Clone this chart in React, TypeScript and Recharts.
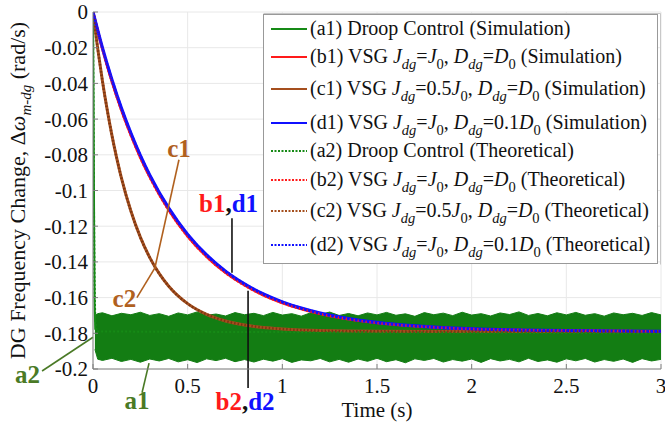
import React from 'react';
import {
  ComposedChart,
  Line,
  Area,
  XAxis,
  YAxis,
  CartesianGrid,
  ReferenceLine,
  ReferenceDot,
} from 'recharts';

// ---------- ticks ----------
const xTicks = [0, 0.5, 1, 1.5, 2, 2.5, 3];
const yTicks = [0, -0.02, -0.04, -0.06, -0.08, -0.1, -0.12, -0.14, -0.16, -0.18, -0.2];

// ---------- (a1) droop control, simulation: initial drop ----------
const droopSimTime = [0, 0.003, 0.006, 0.009, 0.012];
const droopSimValue = [0, -0.05, -0.12, -0.165, -0.178];

// ---------- (a1) droop control, simulation: oscillation band envelope ----------
const bandTime = [
  0.01, 0.025, 0.05, 0.1, 0.15, 0.2, 0.25, 0.3, 0.35, 0.4, 0.45, 0.5, 0.55, 0.6, 0.65, 0.7,
  0.75, 0.8, 0.85, 0.9, 0.95, 1.0, 1.05, 1.1, 1.15, 1.2, 1.25, 1.3, 1.35, 1.4, 1.45, 1.5,
  1.55, 1.6, 1.65, 1.7, 1.75, 1.8, 1.85, 1.9, 1.95, 2.0, 2.05, 2.1, 2.15, 2.2, 2.25, 2.3,
  2.35, 2.4, 2.45, 2.5, 2.55, 2.6, 2.65, 2.7, 2.75, 2.8, 2.85, 2.9, 2.95, 3.0,
];
const bandUpper = [
  -0.17, -0.169, -0.1685, -0.1702, -0.1688, -0.1696, -0.1682, -0.17, -0.169, -0.1705,
  -0.1686, -0.1697, -0.168, -0.1699, -0.1692, -0.1703, -0.1684, -0.1696, -0.1688, -0.1701,
  -0.1683, -0.1698, -0.169, -0.1704, -0.1685, -0.1695, -0.1681, -0.17, -0.1689, -0.1702,
  -0.1686, -0.1697, -0.1683, -0.1699, -0.1691, -0.1705, -0.1684, -0.1696, -0.1687, -0.1701,
  -0.1682, -0.1698, -0.169, -0.1703, -0.1686, -0.1695, -0.168, -0.17, -0.1689, -0.1702,
  -0.1685, -0.1697, -0.1683, -0.1699, -0.169, -0.1704, -0.1686, -0.1696, -0.1688, -0.17,
  -0.1684, -0.1697,
];
const bandLower = [
  -0.189, -0.1945, -0.1952, -0.194, -0.1958, -0.1946, -0.1962, -0.1944, -0.1955, -0.1941,
  -0.196, -0.1948, -0.1964, -0.1943, -0.1953, -0.194, -0.1959, -0.1947, -0.1961, -0.1945,
  -0.1956, -0.1942, -0.1963, -0.1949, -0.1954, -0.1941, -0.196, -0.1946, -0.1962, -0.1944,
  -0.1957, -0.194, -0.1959, -0.1948, -0.1965, -0.1943, -0.1952, -0.1941, -0.1961, -0.1947,
  -0.1956, -0.1944, -0.1963, -0.1942, -0.1955, -0.1946, -0.196, -0.194, -0.1958, -0.1949,
  -0.1962, -0.1943, -0.1954, -0.1941, -0.1961, -0.1947, -0.1957, -0.1944, -0.1963, -0.1942,
  -0.1955, -0.1946,
];

// ---------- (a2) droop control, theoretical ----------
const droopTheoTime = [0, 0.004, 0.008, 0.012, 0.02, 3];
const droopTheoValue = [0, -0.09, -0.15, -0.172, -0.179, -0.18];

// ---------- VSG J=J0 curves (b: D=D0, d: D=0.1D0) ----------
const vsgTime = [
  0, 0.05, 0.1, 0.15, 0.2, 0.25, 0.3, 0.4, 0.5, 0.6, 0.7, 0.8, 0.9, 1.0, 1.1, 1.2, 1.4, 1.6,
  1.8, 2.0, 2.25, 2.5, 2.75, 3.0,
];
const vsgDValue = [
  0, -0.0201, -0.0379, -0.0538, -0.0678, -0.0803, -0.0914, -0.1099, -0.1246, -0.1361,
  -0.1452, -0.1523, -0.158, -0.1624, -0.1659, -0.1687, -0.1726, -0.175, -0.1765, -0.1775,
  -0.1782, -0.1785, -0.1787, -0.1789,
];
const vsgBValue = [
  0, -0.0209, -0.0391, -0.0551, -0.0691, -0.0816, -0.0926, -0.1111, -0.1257, -0.1371,
  -0.1461, -0.1531, -0.1587, -0.163, -0.1664, -0.1691, -0.1729, -0.1752, -0.1766, -0.1776,
  -0.1782, -0.1785, -0.1787, -0.1789,
];

// ---------- VSG J=0.5J0, D=D0 (c) ----------
const vsgCTime = [
  0, 0.025, 0.05, 0.075, 0.1, 0.125, 0.15, 0.2, 0.25, 0.3, 0.35, 0.4, 0.5, 0.6, 0.7, 0.8, 0.9,
  1.0, 1.2, 1.5, 2.0, 2.5, 3.0,
];
const vsgCValue = [
  0, -0.0205, -0.0388, -0.0548, -0.0691, -0.0817, -0.0929, -0.1115, -0.1261, -0.1376,
  -0.1466, -0.1536, -0.1634, -0.1694, -0.1731, -0.1754, -0.1768, -0.1776, -0.1785, -0.1789,
  -0.179, -0.179, -0.179,
];

// ---------- legend ----------
const legendTags = ['(a1)', '(b1)', '(c1)', '(d1)', '(a2)', '(b2)', '(c2)', '(d2)'];
const legendJ = [null, '', '0.5', '', null, '', '0.5', ''];
const legendD = [null, '', '', '0.1', null, '', '', '0.1'];
const legendMode = [
  'Simulation', 'Simulation', 'Simulation', 'Simulation',
  'Theoretical', 'Theoretical', 'Theoretical', 'Theoretical',
];

// ---------- styling ----------
const FONT = "'Liberation Serif', 'Times New Roman', Times, serif";
const GREEN = '#168a16';
const BAND_GREEN = '#137d13';
const RED = '#ff1a1a';
const BROWN = '#a54f1e';
const BLUE = '#1010ff';
const LABEL_GREEN = '#4a7a26';
const LABEL_BROWN = '#b0601e';
const AXIS = '#808080';

const legendColors = [GREEN, RED, BROWN, BLUE, GREEN, RED, BROWN, BLUE];
const legendDotted = [false, false, false, false, true, true, true, true];
const legendRowCenters = [15, 43, 75, 109, 137, 166, 197, 231];

const pts = (ts: number[], vs: number[]) => ts.map((t, i) => ({ t, v: vs[i] }));

const a1Data = pts(droopSimTime, droopSimValue);
const bandData = bandTime.map((t, i) => ({ t, range: [bandLower[i], bandUpper[i]] }));
const a2Data = pts(droopTheoTime, droopTheoValue);
const bData = pts(vsgTime, vsgBValue);
const dData = pts(vsgTime, vsgDValue);
const cData = pts(vsgCTime, vsgCValue);

// annotation layout (data coordinates)
const annoLabels = [
  { x: 0.454, y: -0.0811, parts: [{ t: 'c1', c: LABEL_BROWN }] },
  { x: 0.166, y: -0.165, parts: [{ t: 'c2', c: LABEL_BROWN }] },
  { x: 0.716, y: -0.1122, parts: [{ t: 'b1', c: RED }, { t: ',', c: '#111' }, { t: 'd1', c: BLUE }] },
  { x: 0.803, y: -0.2228, parts: [{ t: 'b2', c: RED }, { t: ',', c: '#111' }, { t: 'd2', c: BLUE }] },
  { x: -0.346, y: -0.2078, parts: [{ t: 'a2', c: LABEL_GREEN }] },
  { x: 0.232, y: -0.2222, parts: [{ t: 'a1', c: LABEL_GREEN }] },
];
const annoLines = [
  { p: [[0.454, -0.0828], [0.327, -0.1433]], c: LABEL_BROWN },
  { p: [[0.232, -0.16], [0.327, -0.1433]], c: LABEL_BROWN },
  { p: [[0.734, -0.1156], [0.734, -0.1461]], c: '#111' },
  { p: [[0.819, -0.1561], [0.819, -0.2106]], c: '#111' },
  { p: [[-0.269, -0.2011], [0, -0.1822]], c: LABEL_GREEN },
  { p: [[0.259, -0.2133], [0.296, -0.1967]], c: LABEL_GREEN },
];

const makeAnno = (parts: { t: string; c: string }[]) => (props: any) => {
  const vb = props.viewBox || {};
  const cx = (vb.x ?? 0) + (vb.width ?? 0) / 2;
  const cy = (vb.y ?? 0) + (vb.height ?? 0) / 2;
  return (
    <text x={cx} y={cy} textAnchor="middle" fontFamily={FONT} fontWeight="bold" fontSize={25}>
      {parts.map((p, i) => (
        <tspan key={i} fill={p.c}>
          {p.t}
        </tspan>
      ))}
    </text>
  );
};

const YLabel = (props: any) => {
  const vb = props.viewBox || { x: 13, y: 12, width: 80, height: 357 };
  const x = vb.x + 12;
  const y = vb.y + vb.height / 2;
  return (
    <text
      x={x}
      y={y}
      transform={`rotate(-90, ${x}, ${y})`}
      textAnchor="middle"
      fontFamily={FONT}
      fontSize={22}
      fill="#111"
      style={{ whiteSpace: 'pre' }}
    >
      <tspan>DG Frequency Change, Δ</tspan>
      <tspan fontStyle="italic">ω</tspan>
      <tspan fontStyle="italic" fontSize={15} dy={6}>m-dg</tspan>
      <tspan dy={-6}> (rad/s)</tspan>
    </text>
  );
};

const XLabel = (props: any) => {
  const vb = props.viewBox || { x: 93, y: 369, width: 568, height: 30 };
  return (
    <text x={vb.x + vb.width / 2} y={vb.y + 48} textAnchor="middle" fontFamily={FONT} fontSize={21} fill="#111">
      Time (s)
    </text>
  );
};

const Sub = ({ children, italic }: { children: string; italic?: boolean }) => (
  <tspan fontSize={14.5} dy={6} fontStyle={italic ? 'italic' : 'normal'}>
    {children}
  </tspan>
);

const LegendBox = () => (
  <svg width={399} height={252} style={{ position: 'absolute', left: 263, top: 13 }}>
    <rect x={0.5} y={1.5} width={394} height={249} fill="#fff" stroke="#999" />
    <polyline points="0.5,0.5 397.5,0.5 397.5,251.5" fill="none" stroke="#c8c8c8" />
    {legendTags.map((tag, i) => {
      const cy = legendRowCenters[i] + 1;
      const base = cy + 6;
      const j = legendJ[i];
      const d = legendD[i];
      return (
        <g key={tag}>
          <line
            x1={8}
            x2={44}
            y1={cy}
            y2={cy}
            stroke={legendColors[i]}
            strokeWidth={2}
            strokeDasharray={legendDotted[i] ? '2 1.5' : undefined}
          />
          <text x={47} y={base} fontFamily={FONT} fontSize={20} fill="#111" style={{ whiteSpace: 'pre' }}>
            {j === null ? (
              <tspan>{`${tag} Droop Control (${legendMode[i]})`}</tspan>
            ) : (
              <>
                <tspan>{`${tag} VSG `}</tspan>
                <tspan fontStyle="italic">J</tspan>
                <Sub italic>dg</Sub>
                <tspan dy={-6}>{`=${j}`}</tspan>
                <tspan fontStyle="italic">J</tspan>
                <Sub>0</Sub>
                <tspan dy={-6}>{', '}</tspan>
                <tspan fontStyle="italic">D</tspan>
                <Sub italic>dg</Sub>
                <tspan dy={-6}>{`=${d}`}</tspan>
                <tspan fontStyle="italic">D</tspan>
                <Sub>0</Sub>
                <tspan dy={-6}>{` (${legendMode[i]})`}</tspan>
              </>
            )}
          </text>
        </g>
      );
    })}
  </svg>
);

const tickStyle = { fill: '#111', fontSize: 21, fontFamily: FONT };

export default function App() {
  return (
    <div style={{ position: 'absolute', left: 0, top: 0, width: 665, height: 427, background: '#fff' }}>
      <ComposedChart width={665} height={427} margin={{ top: 12, right: 4, bottom: 28, left: 13 }}>
        <CartesianGrid stroke="#e8e8e8" />
        <XAxis
          dataKey="t"
          type="number"
          domain={[0, 3]}
          ticks={xTicks}
          interval={0}
          allowDataOverflow
          height={30}
          tickSize={-5}
          tickMargin={14}
          stroke={AXIS}
          tick={tickStyle}
          label={XLabel}
        />
        <YAxis
          type="number"
          domain={[-0.2, 0]}
          ticks={yTicks}
          interval={0}
          allowDataOverflow
          width={80}
          tickSize={-5}
          tickMargin={10}
          stroke={AXIS}
          tick={tickStyle}
          label={YLabel}
        />
        <XAxis
          xAxisId="top"
          orientation="top"
          type="number"
          domain={[0, 3]}
          ticks={xTicks}
          interval={0}
          height={0}
          tickSize={-5}
          stroke={AXIS}
          tick={() => <g />}
        />
        <YAxis
          yAxisId="right"
          orientation="right"
          type="number"
          domain={[-0.2, 0]}
          ticks={yTicks}
          interval={0}
          width={0}
          tickSize={-5}
          stroke={AXIS}
          tick={() => <g />}
        />

        <Area
          data={bandData}
          dataKey="range"
          type="linear"
          stroke={BAND_GREEN}
          strokeWidth={1}
          fill={BAND_GREEN}
          fillOpacity={1}
          dot={false}
          activeDot={false}
          isAnimationActive={false}
        />
        <Line data={a1Data} dataKey="v" type="linear" stroke={GREEN} strokeWidth={2} dot={false} activeDot={false} isAnimationActive={false} />
        <Line data={bData} dataKey="v" type="monotone" stroke={RED} strokeWidth={2.5} dot={false} activeDot={false} isAnimationActive={false} />
        <Line data={cData} dataKey="v" type="monotone" stroke={BROWN} strokeWidth={3} dot={false} activeDot={false} isAnimationActive={false} />
        <Line data={dData} dataKey="v" type="monotone" stroke={BLUE} strokeWidth={3.2} dot={false} activeDot={false} isAnimationActive={false} />
        <Line data={a2Data} dataKey="v" type="linear" stroke={GREEN} strokeWidth={2} strokeDasharray="2 2" dot={false} activeDot={false} isAnimationActive={false} />
        <Line data={bData} dataKey="v" type="monotone" stroke={RED} strokeWidth={2.5} strokeDasharray="2 2" dot={false} activeDot={false} isAnimationActive={false} />
        <Line data={cData} dataKey="v" type="monotone" stroke="#7a3512" strokeWidth={2.5} strokeDasharray="1.5 2" dot={false} activeDot={false} isAnimationActive={false} />
        <Line data={dData} dataKey="v" type="monotone" stroke={BLUE} strokeWidth={2.5} strokeDasharray="2 2" dot={false} activeDot={false} isAnimationActive={false} />

        {annoLines.map((l, i) => (
          <ReferenceLine
            key={`al${i}`}
            segment={[
              { x: l.p[0][0], y: l.p[0][1] },
              { x: l.p[1][0], y: l.p[1][1] },
            ]}
            stroke={l.c}
            strokeWidth={1.6}
            ifOverflow="visible"
          />
        ))}
        {annoLabels.map((a, i) => (
          <ReferenceDot
            key={`ad${i}`}
            x={a.x}
            y={a.y}
            r={0}
            fill="none"
            stroke="none"
            ifOverflow="visible"
            label={makeAnno(a.parts)}
          />
        ))}
      </ComposedChart>
      <LegendBox />
    </div>
  );
}
